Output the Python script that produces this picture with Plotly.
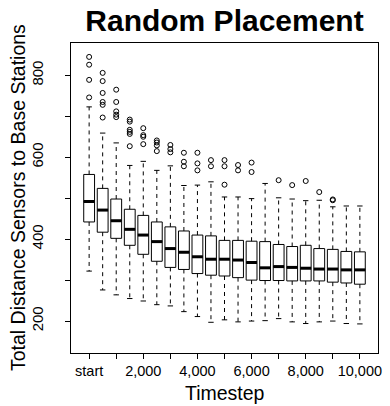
import plotly.graph_objects as go

timesteps = [0, 500, 1000, 1500, 2000, 2500, 3000, 3500, 4000, 4500, 5000,
             5500, 6000, 6500, 7000, 7500, 8000, 8500, 9000, 9500, 10000]
lower_whisker = [322, 276, 264, 255, 249, 240, 237, 223, 211, 197, 203,
                 198, 200, 201, 206, 198, 194, 198, 200, 194, 193]
q1 = [442, 417, 402, 385, 363, 346, 331, 326, 316, 312, 310,
      306, 300, 299, 299, 298, 298, 298, 295, 293, 290]
median = [492, 471, 445, 424, 410, 394, 377, 368, 357, 351, 351,
          349, 343, 330, 333, 331, 329, 327, 327, 325, 325]
q3 = [558, 524, 498, 473, 458, 442, 430, 420, 410, 408, 397,
      397, 395, 394, 387, 382, 385, 377, 375, 370, 369]
upper_whisker = [723, 659, 635, 580, 590, 568, 579, 531, 532, 540, 503,
                 503, 499, 536, 501, 498, 494, 495, 479, 481, 481]
outliers = [
    [845, 826, 789, 746],
    [806, 786, 757, 735, 728, 697],
    [765, 735, 712, 704, 698],
    [692, 687, 667, 662, 657, 627],
    [671, 654, 650, 632],
    [641, 636, 629, 615],
    [630, 620, 612],
    [611, 589, 578],
    [611, 585, 568],
    [593, 578],
    [593, 578, 533],
    [581, 568],
    [587, 564],
    [],
    [544],
    [532],
    [542],
    [515],
    [497, 495],
    [],
    [],
]
tick_vals = [0, 1000, 2000, 3000, 4000, 5000, 6000, 7000, 8000, 9000, 10000]
tick_text = ["start", "", "2,000", "", "4,000", "", "6,000", "", "8,000", "", "10,000"]
ytick_vals = [200, 300, 400, 500, 600, 700, 800]
ytick_text = ["200", "", "400", "", "600", "", "800"]
title_text = "Random Placement"
x_title = "Timestep"
y_title = "Total Distance Sensors to Base Stations"

FONT = "Liberation Sans, Arial, Helvetica, sans-serif"
BOXW = 400  # box width in data units (0.8 of spacing)
CAPW = 100  # half cap width

fig = go.Figure()

# dashed whiskers
wx, wy = [], []
for t, lo, a, b, hi in zip(timesteps, lower_whisker, q1, q3, upper_whisker):
    wx += [t, t, None, t, t, None]
    wy += [b, hi, None, a, lo, None]
fig.add_trace(go.Scatter(x=wx, y=wy, mode="lines", hoverinfo="skip",
                         line=dict(color="black", width=1, dash="4px,4px"),
                         showlegend=False))
# caps
cx, cy = [], []
for t, lo, hi in zip(timesteps, lower_whisker, upper_whisker):
    cx += [t - CAPW, t + CAPW, None, t - CAPW, t + CAPW, None]
    cy += [hi, hi, None, lo, lo, None]
fig.add_trace(go.Scatter(x=cx, y=cy, mode="lines", hoverinfo="skip",
                         line=dict(color="black", width=1), showlegend=False))

# boxes
fig.add_trace(go.Box(x=timesteps, q1=q1, median=median, q3=q3,
                     lowerfence=q1, upperfence=q3, width=BOXW,
                     whiskerwidth=0, boxpoints=False,
                     fillcolor="white", line=dict(color="black", width=1),
                     showlegend=False))

# thick medians
mx, my = [], []
for t, m in zip(timesteps, median):
    mx += [t - BOXW / 2, t + BOXW / 2, None]
    my += [m, m, None]
fig.add_trace(go.Scatter(x=mx, y=my, mode="lines", hoverinfo="skip",
                         line=dict(color="black", width=3), showlegend=False))

# outliers
ox, oy = [], []
for t, outs in zip(timesteps, outliers):
    for v in outs:
        ox.append(t)
        oy.append(v)
fig.add_trace(go.Scatter(x=ox, y=oy, mode="markers",
                         marker=dict(symbol="circle-open", size=5,
                                     color="black", line=dict(width=1)),
                         showlegend=False))

fig.update_layout(
    width=390, height=406,
    margin=dict(l=71, r=8, t=43, b=53),
    paper_bgcolor="white", plot_bgcolor="white",
    font=dict(family=FONT, color="black"),
    title=dict(text="<b>" + title_text + "</b>", x=0.5, xref="paper",
               y=1 - 20 / 406, yref="container", yanchor="middle",
               font=dict(size=30, family=FONT, color="black")),
    xaxis=dict(range=[-670, 10670], tickvals=tick_vals, ticktext=tick_text,
               ticks="outside", ticklen=5, tickcolor="black", tickwidth=1,
               ticklabeloverflow="allow",
               showline=True, linecolor="black", linewidth=1, mirror=True,
               showgrid=False, zeroline=False,
               tickfont=dict(size=14.5, family=FONT, color="black")),
    yaxis=dict(range=[122, 879], tickvals=ytick_vals, ticktext=ytick_text,
               ticks="outside", ticklen=5, tickcolor="black", tickwidth=1,
               tickangle=-90, ticklabelstandoff=16, ticklabeloverflow="allow",
               showline=True, linecolor="black", linewidth=1, mirror=True,
               showgrid=False, zeroline=False,
               tickfont=dict(size=15, family=FONT, color="black")),
    annotations=[
        dict(text=x_title, xref="paper", yref="paper", x=0.5, y=0,
             xanchor="center", yanchor="middle", yshift=-40, showarrow=False,
             font=dict(size=19.5, family=FONT, color="black")),
        dict(text=y_title, xref="paper", yref="paper", x=0, y=0.5,
             xanchor="center", yanchor="middle", xshift=-53, textangle=-90,
             showarrow=False,
             font=dict(size=19.5, family=FONT, color="black")),
    ],
)

fig.write_html("out.html", config={"displayModeBar": False},
               post_script="document.body.style.margin='0';document.body.style.padding='0';")
